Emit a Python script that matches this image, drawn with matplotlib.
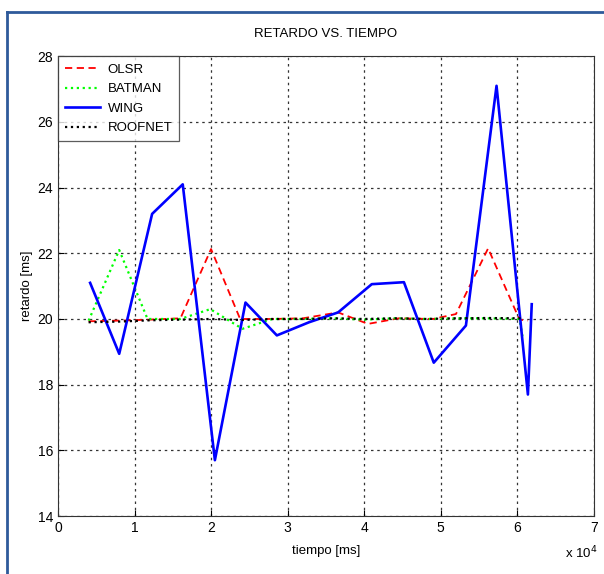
import matplotlib
matplotlib.use('Agg')
import matplotlib.pyplot as plt
from matplotlib.lines import Line2D

plt.rcParams['font.family'] = ['Liberation Sans Narrow', 'Liberation Sans', 'DejaVu Sans']

# tiempo en unidades de 1e4 ms
olsr_t = [0.40, 0.80, 1.20, 1.60, 2.00, 2.38, 2.80, 3.20, 3.66, 4.05, 4.45, 4.90, 5.20, 5.62, 6.03, 6.14]
olsr_r = [19.93, 19.95, 19.98, 20.02, 22.13, 20.0, 20.0, 20.02, 20.2, 19.85, 20.02, 20.0, 20.15, 22.15, 19.98, 19.95]

batman_t = [0.40, 0.80, 1.17, 1.60, 1.99, 2.41, 2.80, 3.20, 3.60, 4.00, 4.40, 4.80, 5.20, 5.60, 6.03, 6.07]
batman_r = [19.95, 22.1, 20.0, 20.0, 20.3, 19.7, 20.0, 20.0, 20.02, 19.98, 20.02, 20.0, 20.02, 20.02, 20.0, 19.45]

wing_t = [0.42, 0.80, 1.23, 1.63, 2.05, 2.45, 2.86, 3.28, 3.66, 4.10, 4.52, 4.91, 5.33, 5.73, 6.14, 6.19]
wing_r = [21.1, 18.94, 23.2, 24.1, 15.7, 20.5, 19.5, 19.9, 20.2, 21.06, 21.12, 18.67, 19.8, 27.1, 17.7, 20.45]

roofnet_t = [0.40, 0.80, 1.20, 1.60, 2.00, 2.40, 2.80, 3.20, 3.60, 4.00, 4.40, 4.80, 5.20, 5.60, 6.05]
roofnet_r = [19.9, 19.92, 19.96, 19.98, 20.0, 19.97, 20.0, 20.0, 20.02, 20.0, 20.02, 20.0, 20.02, 20.03, 20.02]

fig = plt.figure(figsize=(6.04, 5.74), dpi=100)
ax = fig.add_axes([0.096, 0.101, 0.887, 0.801])

ax.plot([t * 1e4 for t in olsr_t], olsr_r, color='red', ls=(0, (4, 2.5)), lw=1.3, label='OLSR')
ax.plot([t * 1e4 for t in batman_t], batman_r, color='#00ff00', ls=':', lw=1.6, label='BATMAN')
ax.plot([t * 1e4 for t in wing_t], wing_r, color='#0000ff', ls='-', lw=1.9, label='WING')
ax.plot([t * 1e4 for t in roofnet_t], roofnet_r, color='black', ls=':', lw=1.6, label='ROOFNET')

ax.set_xlim(0, 7e4)
ax.set_ylim(14, 28)
ax.set_xticks([i * 1e4 for i in range(8)])
ax.set_xticklabels([str(i) for i in range(8)])
ax.set_yticks(range(14, 29, 2))
ax.tick_params(direction='in', labelsize=10, length=4)
ax.grid(True, color='#333333', ls=(0, (2, 3)), lw=0.9)
for s in ax.spines.values():
    s.set_color('#333333')

ax.set_title('RETARDO VS. TIEMPO', fontsize=9.5, pad=14)
ax.set_xlabel('tiempo [ms]', fontsize=9.5, labelpad=7)
ax.set_ylabel('retardo [ms]', fontsize=9.5, labelpad=3)
fig.text(0.99, 0.037, r'x 10$^4$', fontsize=9.5, ha='right', va='center')

leg = ax.legend(loc='upper left', fontsize=9.5, frameon=True, fancybox=False,
                edgecolor='#333333', borderaxespad=0, handlelength=2.6,
                handletextpad=0.6, labelspacing=0.55, borderpad=0.55)
leg.get_frame().set_linewidth(0.9)

# marco azul de la captura
fig.add_artist(Line2D([0.012, 0.012], [0.0, 0.979], color='#2E5A9A', lw=2))
fig.add_artist(Line2D([0.012, 1.0], [0.979, 0.979], color='#2E5A9A', lw=2))

fig.savefig('out.png', dpi=100)
